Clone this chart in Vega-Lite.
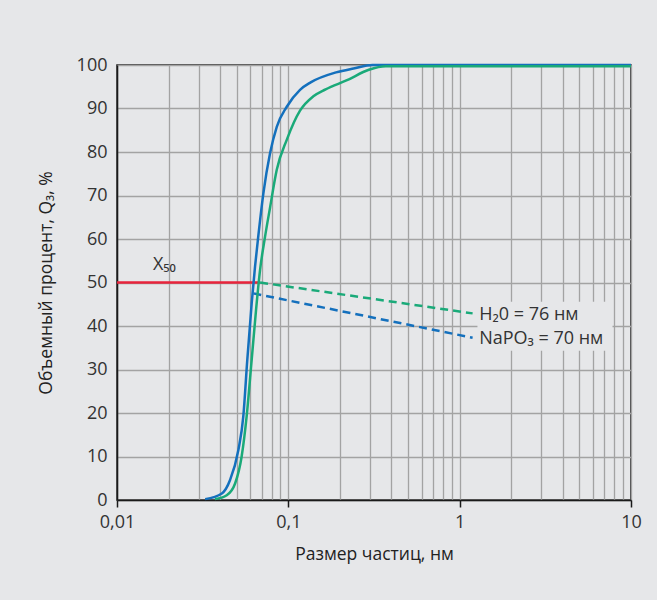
{
  "$schema": "https://vega.github.io/schema/vega-lite/v6.json",
  "width": 514,
  "height": 435,
  "autosize": {"type": "none"},
  "padding": {"left": 117, "top": 65, "right": 26, "bottom": 100},
  "background": "#e6e7e9",
  "config": {
    "font": "Open Sans",
    "view": {"stroke": "#1a1a1a", "strokeWidth": 1.5, "fill": "#e6e7e9"},
    "axis": {
      "labelFont": "Open Sans",
      "titleFont": "Open Sans",
      "labelFontSize": 18,
      "titleFontSize": 17.5,
      "labelColor": "#333333",
      "titleColor": "#222222",
      "titleFontWeight": "normal",
      "domainColor": "#1a1a1a",
      "domainWidth": 1.5,
      "gridColor": "#a3a3a3",
      "gridWidth": 1.3,
      "gridOpacity": 1
    }
  },
  "datasets": {
    "curves": [
      {"series": "NaPO3", "x": 0.0327, "y": 0.2},
      {"series": "NaPO3", "x": 0.0409, "y": 1.5},
      {"series": "NaPO3", "x": 0.0457, "y": 4.6},
      {"series": "NaPO3", "x": 0.0511, "y": 11.5},
      {"series": "NaPO3", "x": 0.0546, "y": 19.2},
      {"series": "NaPO3", "x": 0.0576, "y": 32.2},
      {"series": "NaPO3", "x": 0.0611, "y": 45.2},
      {"series": "NaPO3", "x": 0.0639, "y": 53.6},
      {"series": "NaPO3", "x": 0.0665, "y": 60.0},
      {"series": "NaPO3", "x": 0.0715, "y": 70.5},
      {"series": "NaPO3", "x": 0.0782, "y": 79.7},
      {"series": "NaPO3", "x": 0.0856, "y": 85.8},
      {"series": "NaPO3", "x": 0.0979, "y": 90.4},
      {"series": "NaPO3", "x": 0.117, "y": 94.3},
      {"series": "NaPO3", "x": 0.135, "y": 96.0},
      {"series": "NaPO3", "x": 0.19, "y": 98.3},
      {"series": "NaPO3", "x": 0.24, "y": 99.2},
      {"series": "NaPO3", "x": 0.31, "y": 100},
      {"series": "NaPO3", "x": 10, "y": 100},
      {"series": "H2O", "x": 0.0373, "y": 0.2},
      {"series": "H2O", "x": 0.0437, "y": 1.1},
      {"series": "H2O", "x": 0.0489, "y": 3.8},
      {"series": "H2O", "x": 0.0534, "y": 10},
      {"series": "H2O", "x": 0.0571, "y": 19.2},
      {"series": "H2O", "x": 0.0611, "y": 32.2},
      {"series": "H2O", "x": 0.0648, "y": 43.7},
      {"series": "H2O", "x": 0.0684, "y": 52.9},
      {"series": "H2O", "x": 0.0731, "y": 60.5},
      {"series": "H2O", "x": 0.0782, "y": 67.2},
      {"series": "H2O", "x": 0.0856, "y": 75.9},
      {"series": "H2O", "x": 0.0979, "y": 82.8},
      {"series": "H2O", "x": 0.117, "y": 89.5},
      {"series": "H2O", "x": 0.14, "y": 92.8},
      {"series": "H2O", "x": 0.165, "y": 94.4},
      {"series": "H2O", "x": 0.22, "y": 96.5},
      {"series": "H2O", "x": 0.295, "y": 98.9},
      {"series": "H2O", "x": 0.37, "y": 99.7},
      {"series": "H2O", "x": 10, "y": 99.7}
    ],
    "guides": [
      {"series": "X50", "x": 0.01, "y": 50},
      {"series": "X50", "x": 0.0684, "y": 50},
      {"series": "H2O", "x": 0.0684, "y": 50},
      {"series": "H2O", "x": 1.19, "y": 42.9},
      {"series": "NaPO3", "x": 0.0625, "y": 47.5},
      {"series": "NaPO3", "x": 1.19, "y": 37.3}
    ],
    "mask": [
      {"x": 1.27, "x2": 7.8, "y": 34.3, "y2": 45.6}
    ],
    "labels": [
      {"x": 0.0162, "y": 54, "text": "X₅₀"},
      {"x": 1.3, "y": 42.5, "text": "H₂0 = 76 нм"},
      {"x": 1.3, "y": 37.0, "text": "NaPO₃ = 70 нм"}
    ]
  },
  "layer": [
    {
      "data": {"name": "mask"},
      "mark": {"type": "rect", "fill": "#e6e7e9", "stroke": null},
      "encoding": {
        "x": {
          "field": "x", "type": "quantitative",
          "scale": {"type": "log", "domain": [0.01, 10], "nice": false},
          "title": "Размер частиц, нм",
          "axis": {
            "values": [0.01, 0.02, 0.03, 0.04, 0.05, 0.06, 0.07, 0.08, 0.09, 0.1, 0.2, 0.3, 0.4, 0.5, 0.6, 0.7, 0.8, 0.9, 1, 2, 3, 4, 5, 6, 7, 8, 9, 10],
            "grid": true,
            "ticks": true,
            "tickSize": 7,
            "tickColor": "#1a1a1a",
            "tickWidth": 1.5,
            "tickOpacity": {"condition": {"test": "abs(log(datum.value)/LN10 - round(log(datum.value)/LN10)) < 0.000001", "value": 1}, "value": 0},
            "labelExpr": "abs(log(datum.value)/LN10 - round(log(datum.value)/LN10)) < 0.000001 ? replace(toString(datum.value), '.', ',') : ''",
            "labelPadding": 6,
            "labelOverlap": false,
            "labelFlush": false,
            "titlePadding": 14
          }
        },
        "x2": {"field": "x2"},
        "y": {
          "field": "y", "type": "quantitative",
          "scale": {"domain": [0, 100], "nice": false},
          "title": "Объемный процент, Q₃, %",
          "axis": {
            "values": [0, 10, 20, 30, 40, 50, 60, 70, 80, 90, 100],
            "grid": true,
            "ticks": false,
            "labelPadding": 10,
            "titlePadding": 21
          }
        },
        "y2": {"field": "y2"}
      }
    },
    {
      "data": {"name": "guides"},
      "mark": {"type": "line", "strokeWidth": 2.5},
      "encoding": {
        "x": {"field": "x", "type": "quantitative"},
        "y": {"field": "y", "type": "quantitative"},
        "detail": {"field": "series"},
        "color": {
          "field": "series", "type": "nominal",
          "scale": {"domain": ["NaPO3", "H2O", "X50"], "range": ["#1470bd", "#1aaa79", "#e8243c"]},
          "legend": null
        },
        "strokeDash": {
          "field": "series", "type": "nominal",
          "scale": {"domain": ["NaPO3", "H2O", "X50"], "range": [[8, 5], [8, 5], [1, 0]]},
          "legend": null
        }
      }
    },
    {
      "data": {"name": "curves"},
      "mark": {"type": "line", "strokeWidth": 2.5, "interpolate": "monotone"},
      "encoding": {
        "x": {"field": "x", "type": "quantitative"},
        "y": {"field": "y", "type": "quantitative"},
        "color": {"field": "series", "type": "nominal", "legend": null},
        "order": {"field": "x", "type": "quantitative"}
      }
    },
    {
      "data": {"name": "labels"},
      "mark": {"type": "text", "align": "left", "baseline": "middle", "fontSize": 18, "font": "Open Sans", "color": "#333333"},
      "encoding": {
        "x": {"field": "x", "type": "quantitative"},
        "y": {"field": "y", "type": "quantitative"},
        "text": {"field": "text"}
      }
    }
  ]
}
